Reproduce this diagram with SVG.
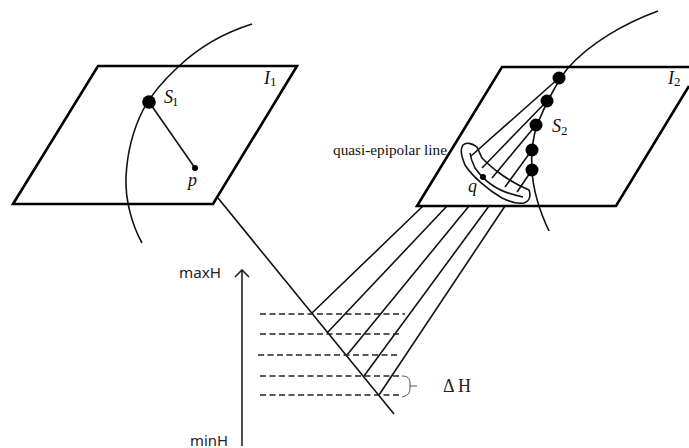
<svg xmlns="http://www.w3.org/2000/svg" width="689" height="448" viewBox="0 0 689 448">
<style>
.pl{fill:none;stroke:#000;stroke-width:2.6}
.l{fill:none;stroke:#111;stroke-width:1.6}
.d{fill:none;stroke:#222;stroke-width:1.5;stroke-dasharray:6 3.5}
.m{font-family:"Liberation Serif",serif;font-size:18px;font-style:italic;fill:#111}
.n{font-family:"Liberation Serif",serif;font-size:13px;fill:#111}
.s{font-family:"Noto Sans",sans-serif;font-size:15px;fill:#222}
</style>
<rect width="689" height="448" fill="#fff"/>
<g id="connectors">
<path class="l" d="M252 24C220 34 197 49 178 67C165 79 152 93 143 110C133 130 127 155 126 177C125 200 132 225 142 243"/>
<path class="l" d="M658 11C625 23 590 43 568 68C558 80 545 105 537 125C532 140 531 155 532 170C533 190 540 212 549 231"/>
<path class="l" d="M149 102L195 168"/>
<path class="l" d="M218 198L394 414"/>
<path class="l" d="M559 78L471 156M547 101L482 168M536 125L492 178M532 150L505 187M532 170L517 192"/>
<path class="l" d="M423 206L312 313M447 206L327 333M469 206L347 355M489 206L364 376M505 206L379 395"/>
<path class="l" d="M477 147C472 143 466 142 463 145C459 150 462 158 465 165C472 176 488 190 502 198C510 202 518 204 524 203C530 201 531 195 529 190C515 184 507 179 498 172C491 167 486 162 482 158Z"/>
<path class="l" d="M470 153C471 160 473 164 475 168C480 175 486 181 492 185C502 192 513 195 523 197"/>
<path class="d" d="M260 314H405M260 334H400M258 355H400M260 376H402M260 395H400"/>
<path fill="none" stroke="#555" stroke-width="1" d="M402 376C410 376 410 380 410 386C410 392 410 395 402 397M410 386H417"/>
<path fill="none" stroke="#222" stroke-width="1.6" d="M242 446V271M235 277L242 270L249 277"/>
</g>
<g id="plane-I1"><path class="pl" d="M98 66H297L213 204H13Z"/>
<text class="m" x="264" y="84">I</text><text class="n" x="270" y="86">1</text></g>
<g id="plane-I2"><path class="pl" d="M689 86L616 206H417L502 67H690"/>
<text class="m" x="668" y="84">I</text><text class="n" x="674" y="86">2</text></g>
<g id="S1"><circle cx="149" cy="102" r="6.8"/><text class="m" x="164" y="103">S</text><text class="n" x="172" y="106">1</text></g>
<g id="p"><circle cx="195" cy="168" r="3"/><text class="m" x="188" y="186">p</text></g>
<g id="S2"><circle cx="559" cy="78" r="6.5"/><circle cx="547" cy="101" r="6.5"/><circle cx="536" cy="125" r="6.5"/><circle cx="532" cy="150" r="6.5"/><circle cx="532" cy="170" r="6.5"/><text class="m" x="552" y="132">S</text><text class="n" x="561" y="135">2</text></g>
<g id="q"><circle cx="483" cy="177" r="3"/><text class="m" x="468" y="192">q</text></g>
<text x="333" y="155" font-family="Liberation Serif,serif" font-size="15" fill="#111" textLength="114" lengthAdjust="spacingAndGlyphs">quasi-epipolar line</text>
<text class="s" x="179" y="278" textLength="42" lengthAdjust="spacingAndGlyphs">maxH</text>
<text class="s" x="190" y="446" textLength="38" lengthAdjust="spacingAndGlyphs">minH</text>
<text x="443" y="392" font-family="Liberation Serif,serif" font-size="18" fill="#222">Δ H</text>
</svg>
